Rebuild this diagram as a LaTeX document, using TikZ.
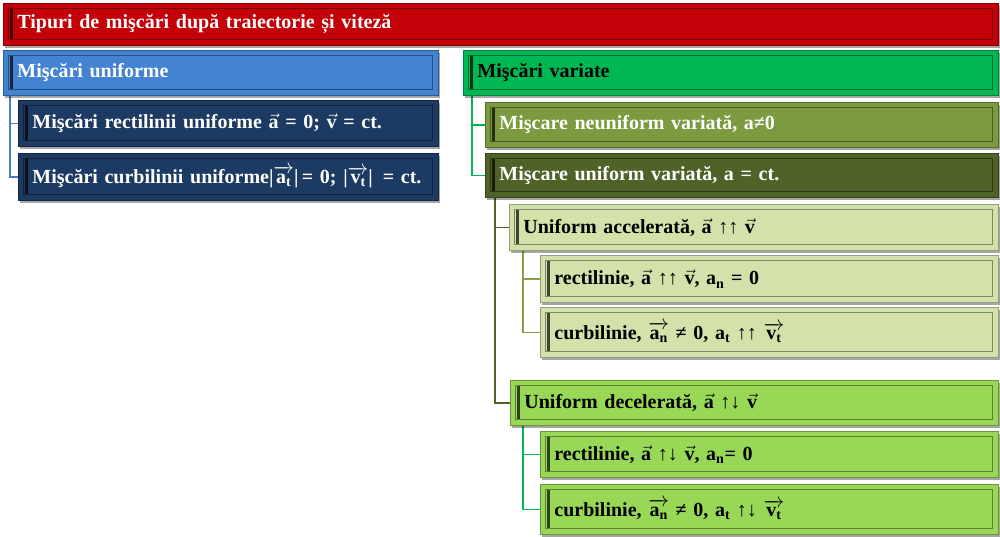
\documentclass[tikz,border=0pt]{standalone}
\usepackage{amsmath}
\usepackage{fontspec}
\setmainfont{Liberation Serif}
\usetikzlibrary{shadows,backgrounds}
\definecolor{cRed}{HTML}{C40008}
\definecolor{cBlue}{HTML}{4383D2}
\definecolor{cNavy}{HTML}{1C3A62}
\definecolor{cGreen}{HTML}{00B853}
\definecolor{cOlive}{HTML}{7C9A40}
\definecolor{cDOlive}{HTML}{4F6228}
\definecolor{cLight}{HTML}{D3E2AB}
\definecolor{cBright}{HTML}{98D856}
\definecolor{cBlueL}{HTML}{4A7EC0}
\definecolor{cOliveL}{HTML}{8AA040}
\tikzset{
  x=1pt, y=-1pt,
  cbox/.style={rectangle, anchor=north west, fill=#1, draw=#1!70!black, line width=0.8pt,
    inner xsep=14pt, inner ysep=0pt,
    font=\fontsize{20}{24}\selectfont\bfseries,
    drop shadow={shadow xshift=1.5pt, shadow yshift=-2.5pt, opacity=0.35, fill=black},
    path picture={
      \draw[line width=0.8pt, #1!60!black] ([shift={(5pt,-5pt)}]path picture bounding box.north west) rectangle ([shift={(-6pt,6pt)}]path picture bounding box.south east);
      \draw[line width=2.2pt, #1!30!black] ([shift={(8pt,-6pt)}]path picture bounding box.north west) -- ([shift={(8pt,6pt)}]path picture bounding box.south west);
    }},
  conn/.style={line width=1.8pt}
}
\newcommand{\mkbox}[8]{\pgfmathsetmacro{\tw}{#4-28}\node[cbox=#6, text=#7, minimum width=#4pt, minimum height=#5pt, text width=\tw pt, align=left] (#1) at (#2,#3) {#8};}
\newcommand{\va}{$\vec{\text{a}}$}
\newcommand{\vv}{$\vec{\text{v}}$}
\newcommand{\an}{$\text{a}_{\text{n}}$}
\newcommand{\at}{$\text{a}_{\text{t}}$}
\newcommand{\van}{$\overrightarrow{\text{a}_{\text{n}}}$}
\newcommand{\vat}{$\overrightarrow{\text{a}_{\text{t}}}$}
\newcommand{\vvt}{$\overrightarrow{\text{v}_{\text{t}}}$}
\begin{document}
\begin{tikzpicture}
\useasboundingbox (0,0) rectangle (1000,536);
\mkbox{title}{3}{3}{995}{42}{cRed}{white}{Tipuri de mişcări după traiectorie și viteză}
\mkbox{ub}{3}{50}{435}{45}{cBlue}{white}{Mişcări uniforme}
\mkbox{r1}{18}{100}{420}{46}{cNavy}{white}{Mişcări rectilinii uniforme \va{} = 0; \vv{} = ct.}
\mkbox{r2}{18}{153}{420}{47}{cNavy}{white}{Mişcări curbilinii uniforme|\vat|\,= 0; |\vvt|\ \,= ct.}
\mkbox{mv}{463}{50}{535}{45}{cGreen}{black}{Mişcări variate}
\mkbox{nv}{485}{102}{513}{45}{cOlive}{white}{Mişcare neuniform variată, a≠0}
\mkbox{uv}{485}{153}{513}{44}{cDOlive}{white}{Mişcare uniform variată, a = ct.}
\mkbox{ua}{509}{204}{489}{46}{cLight}{black}{Uniform accelerată, \va{} ↑↑ \vv}
\mkbox{a1}{540}{255}{458}{47}{cLight}{black}{rectilinie, \va{} ↑↑ \vv, \an{} = 0}
\mkbox{a2}{540}{307}{458}{50}{cLight}{black}{curbilinie, \van{} ≠ 0, \at{} ↑↑ \vvt}
\mkbox{ud}{510}{380}{488}{45}{cBright}{black}{Uniform decelerată, \va{} ↑↓ \vv}
\mkbox{d1}{540}{431}{458}{46}{cBright}{black}{rectilinie, \va{} ↑↓ \vv, \an= 0}
\mkbox{d2}{540}{484}{458}{50}{cBright}{black}{curbilinie, \van{} ≠ 0, \at{} ↑↓ \vvt}
\begin{scope}[on background layer]
\fill[white] (0,0) rectangle (1000,536);
\draw[conn, cBlueL] ([xshift=7pt]ub.south west) |- (r1.west);
\draw[conn, cBlueL] ([xshift=7pt]ub.south west) |- (r2.west);
\draw[conn, cGreen] ([xshift=9pt]mv.south west) |- (nv.west);
\draw[conn, cGreen] ([xshift=9pt]mv.south west) |- (uv.west);
\draw[conn, cDOlive] ([xshift=10pt]uv.south west) |- (ua.west);
\draw[conn, cDOlive] ([xshift=10pt]uv.south west) |- (ud.west);
\draw[conn, cOliveL] ([xshift=14pt]ua.south west) |- (a1.west);
\draw[conn, cOliveL] ([xshift=14pt]ua.south west) |- (a2.west);
\draw[conn, cGreen] ([xshift=13pt]ud.south west) |- (d1.west);
\draw[conn, cGreen] ([xshift=13pt]ud.south west) |- (d2.west);
\end{scope}
\end{tikzpicture}
\end{document}
